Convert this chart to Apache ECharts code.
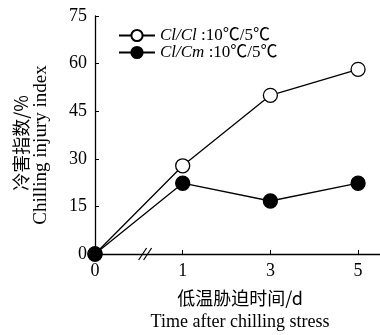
<!DOCTYPE html>
<html><head><meta charset="utf-8">
<script src="https://cdn.jsdelivr.net/npm/echarts@6/dist/echarts.min.js"></script>
<style>html,body{margin:0;padding:0;background:#fff}#c{width:380px;height:335px}</style>
</head><body><div id="c"></div>
<script>
const categories = ['0', '1', '3', '5'];
const seriesNames = ['Cl/Cl', 'Cl/Cm'];
const clcl = [0, 27.8, 50, 58.2];
const clcm = [0, 22.3, 16.7, 22.3];
const yTicks = [0, 15, 30, 45, 60, 75];

const FONT = '"Liberation Serif", "Noto Sans CJK SC", serif';
const CJK = '"Noto Sans CJK SC", serif';
const chart = echarts.init(document.getElementById('c'));
const toData = arr => arr.map((v, i) => [i, v]);
const lineStyle = { color: '#000', width: 1.3 };

chart.setOption({
  animation: false,
  grid: { left: 95, right: 0, top: 16, bottom: 81 },
  legend: {
    left: 113, top: 22, orient: 'vertical', itemGap: 0,
    itemWidth: 36, itemHeight: 14,
    textStyle: { fontFamily: FONT, fontSize: 17, color: '#000',
      rich: { i: { fontStyle: 'italic', fontFamily: FONT, fontSize: 17, color: '#000' },
              t: { fontFamily: FONT, fontSize: 17, color: '#000' } } },
    formatter: n => '{i|' + n + '}{t| :10℃/5℃}',
    data: seriesNames
  },
  xAxis: {
    type: 'value', min: 0, max: 3.25, interval: 1,
    axisLine: { lineStyle: { color: '#000', width: 1.3 } },
    axisTick: { inside: true, length: 4, lineStyle: { color: '#000' } },
    splitLine: { show: false },
    axisLabel: { showMaxLabel: false, fontFamily: FONT, fontSize: 18, color: '#000', margin: 8,
      formatter: v => (Number.isInteger(v) && v < categories.length) ? categories[v] : '' }
  },
  yAxis: {
    type: 'value', min: 0, max: 75, interval: 15,
    axisLine: { show: true, lineStyle: { color: '#000', width: 1.3 } },
    axisTick: { show: true, inside: true, length: 4, lineStyle: { color: '#000' } },
    splitLine: { show: false },
    axisLabel: { fontFamily: FONT, fontSize: 18, color: '#000', margin: 8,
      formatter: v => yTicks.includes(v) ? String(v) : '' }
  },
  series: [
    { name: seriesNames[0], type: 'line', data: toData(clcl), symbol: 'circle', symbolSize: 14,
      itemStyle: { color: '#fff', borderColor: '#000', borderWidth: 1.3 }, lineStyle, z: 2 },
    { name: seriesNames[1], type: 'line', data: toData(clcm), symbol: 'circle', symbolSize: 14,
      itemStyle: { color: '#000', borderColor: '#000', borderWidth: 1.3 }, lineStyle, z: 3 }
  ]
});

const p0 = chart.convertToPixel({ gridIndex: 0 }, [0.6, 0]);
const bx = p0[0], by = p0[1];
chart.setOption({
  graphic: [
    { type: 'line', shape: { x1: bx - 9, y1: by + 6, x2: bx - 1, y2: by - 6 }, style: { stroke: '#000', lineWidth: 1.2 }, z: 101 },
    { type: 'line', shape: { x1: bx - 4, y1: by + 6, x2: bx + 4, y2: by - 6 }, style: { stroke: '#000', lineWidth: 1.2 }, z: 101 },
    { type: 'text', x: 21, y: 143, rotation: Math.PI / 2,
      style: { text: '冷害指数/%', fontFamily: CJK, fontSize: 18, fill: '#000', align: 'center', verticalAlign: 'middle' } },
    { type: 'text', x: 41, y: 145, rotation: Math.PI / 2,
      style: { text: 'Chilling injury index', fontFamily: FONT, fontSize: 19, fill: '#000', align: 'center', verticalAlign: 'middle' } },
    { type: 'text', x: 240, y: 298,
      style: { text: '低温胁迫时间/d', fontFamily: CJK, fontSize: 18, fill: '#000', align: 'center', verticalAlign: 'middle' } },
    { type: 'text', x: 240, y: 322,
      style: { text: 'Time after chilling stress', fontFamily: FONT, fontSize: 18, fill: '#000', align: 'center', verticalAlign: 'middle' } }
  ]
});
</script>
</body></html>
